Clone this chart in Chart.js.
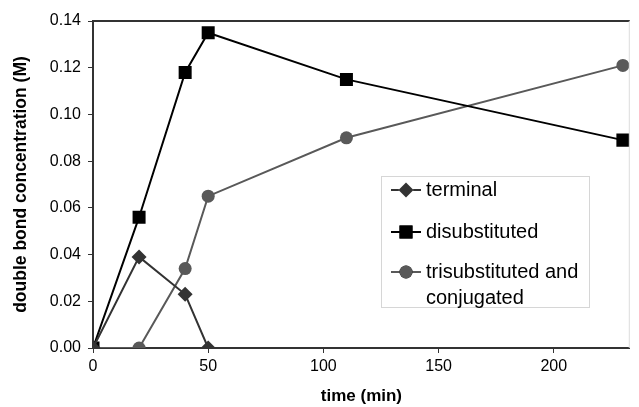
<!DOCTYPE html>
<html>
<head>
<meta charset="utf-8">
<script src="https://cdn.jsdelivr.net/npm/chart.js@4.4.0/dist/chart.umd.min.js"></script>
<style>
  html, body { margin: 0; padding: 0; background: #fff; }
  #wrap { width: 639px; height: 407px; }
</style>
</head>
<body>
<div id="wrap"><canvas id="conc" width="639" height="407"></canvas></div>
<script>
// time (min)
var timeTerminal = [0, 20, 40, 50];
var timeDisub    = [0, 20, 40, 50, 110, 230];
var timeTrisub   = [0, 20, 40, 50, 110, 230];

// double bond concentration (M)
var terminal = [0, 0.039, 0.023, 0];
var disubstituted = [0, 0.056, 0.118, 0.135, 0.115, 0.089];
var trisubstituted = [0, 0, 0.034, 0.065, 0.090, 0.121];

var seriesNames = ['terminal', 'disubstituted', 'trisubstituted and|conjugated'];
var xTitle = 'time (min)';
var yTitle = 'double bond concentration (M)';

function pts(xs, ys) {
  return xs.map(function (x, i) { return { x: x, y: ys[i] }; });
}

// box at top/right of plot + legend inside the plot
var frameAndLegend = {
  id: 'frameAndLegend',
  afterDraw: function (chart) {
    var ctx = chart.ctx, a = chart.chartArea;
    ctx.save();
    ctx.strokeStyle = '#333';
    ctx.lineWidth = 2;
    ctx.beginPath();
    ctx.moveTo(a.left, a.top);
    ctx.lineTo(a.right, a.top);
    ctx.stroke();
    ctx.strokeStyle = '#ddd';
    ctx.lineWidth = 1;
    ctx.beginPath();
    ctx.moveTo(a.right - 0.5, a.top);
    ctx.lineTo(a.right - 0.5, a.bottom);
    ctx.stroke();

    // legend box
    var bx = 381, by = 176, bw = 208, bh = 131;
    ctx.fillStyle = '#fff';
    ctx.fillRect(bx, by, bw, bh);
    ctx.strokeStyle = '#d6d6d6';
    ctx.lineWidth = 1;
    ctx.strokeRect(bx + 0.5, by + 0.5, bw, bh);

    var rows = [190, 232, 272];
    ctx.font = '20px "Liberation Sans", Arial, sans-serif';
    ctx.textBaseline = 'middle';
    chart.data.datasets.forEach(function (ds, i) {
      var y = rows[i];
      ctx.strokeStyle = ds.borderColor;
      ctx.lineWidth = 2;
      ctx.beginPath();
      ctx.moveTo(391, y);
      ctx.lineTo(421, y);
      ctx.stroke();
      Chart.helpers.drawPoint(ctx, {
        pointStyle: ds.pointStyle,
        radius: ds.pointRadius,
        rotation: 0,
        borderWidth: 0
      }, 406, y);
      ctx.fillStyle = ds.pointBackgroundColor;
      ctx.fill();
      ctx.fillStyle = '#000';
      var lines = seriesNames[i].split('|');
      lines.forEach(function (t, j) {
        ctx.fillText(t, 426, y + j * 26);
      });
    });
    ctx.restore();
  }
};

var context = document.getElementById('conc').getContext('2d');
var myChart = new Chart(context, {
  type: 'scatter',
  data: {
    datasets: [
      {
        label: 'terminal',
        data: pts(timeTerminal, terminal),
        showLine: true,
        borderColor: '#333333',
        backgroundColor: '#333333',
        pointBackgroundColor: '#333333',
        pointBorderWidth: 0,
        pointStyle: 'rectRot',
        pointRadius: 7.5,
        borderWidth: 2
      },
      {
        label: 'disubstituted',
        data: pts(timeDisub, disubstituted),
        showLine: true,
        borderColor: '#000000',
        backgroundColor: '#000000',
        pointBackgroundColor: '#000000',
        pointBorderWidth: 0,
        pointStyle: 'rect',
        pointRadius: 9.2,
        borderWidth: 2
      },
      {
        label: 'trisubstituted and conjugated',
        data: pts(timeTrisub, trisubstituted),
        showLine: true,
        borderColor: '#595959',
        backgroundColor: '#595959',
        pointBackgroundColor: '#595959',
        pointBorderWidth: 0,
        pointStyle: 'circle',
        pointRadius: 6.5,
        borderWidth: 2
      }
    ]
  },
  options: {
    responsive: false,
    animation: false,
    layout: { padding: { top: 21, right: 1, left: 0, bottom: 0 } },
    plugins: {
      legend: { display: false },
      tooltip: { enabled: false }
    },
    scales: {
      x: {
        type: 'linear',
        min: 0,
        max: 233,
        afterFit: function (s) { s.height = 59; },
        border: { display: true, color: '#333', width: 2 },
        grid: { drawOnChartArea: false, drawTicks: true, tickLength: 5, color: '#333' },
        ticks: {
          stepSize: 50,
          includeBounds: false,
          color: '#000',
          padding: 4,
          maxRotation: 0,
          font: { family: '"Liberation Sans", Arial, sans-serif', size: 16 }
        },
        title: {
          display: true,
          text: xTitle,
          color: '#000',
          padding: { top: 0, bottom: 0 },
          font: { family: '"Liberation Sans", Arial, sans-serif', size: 17, weight: 'bold' }
        }
      },
      y: {
        min: 0,
        max: 0.14,
        afterFit: function (s) { s.width = 93; },
        border: { display: true, color: '#333', width: 2 },
        grid: { drawOnChartArea: false, drawTicks: true, tickLength: 5, color: '#333' },
        ticks: {
          stepSize: 0.02,
          color: '#000',
          padding: 7,
          font: { family: '"Liberation Sans", Arial, sans-serif', size: 16 },
          callback: function (v) { return v.toFixed(2); }
        },
        title: {
          display: true,
          text: yTitle,
          color: '#000',
          padding: { top: 11, bottom: 0 },
          font: { family: '"Liberation Sans", Arial, sans-serif', size: 17.5, weight: 'bold' }
        }
      }
    }
  },
  plugins: [frameAndLegend]
});
</script>
</body>
</html>
